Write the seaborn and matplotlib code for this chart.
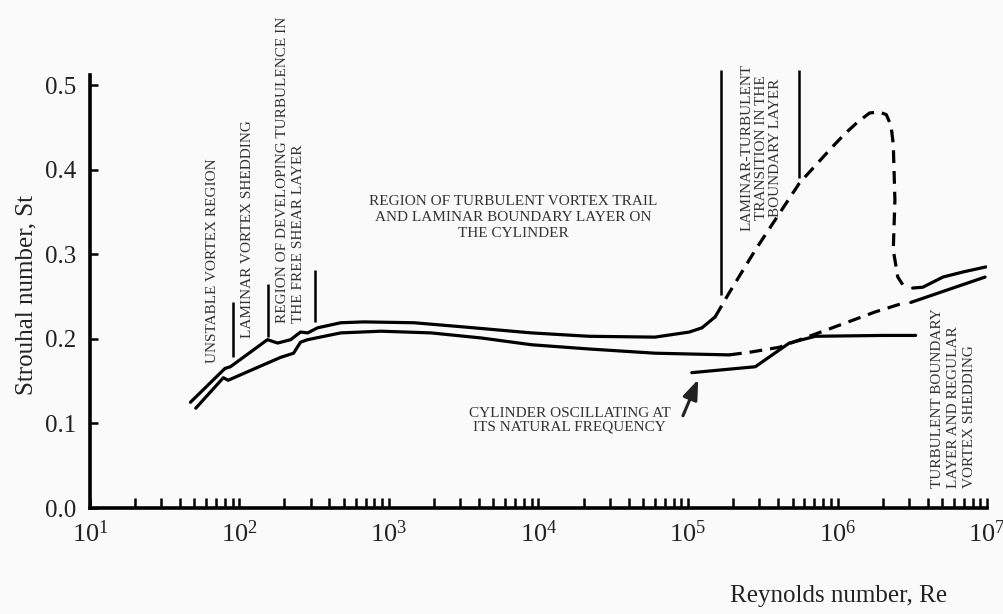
import numpy as np
import pandas as pd
import matplotlib
matplotlib.use("Agg")
import matplotlib.pyplot as plt
import seaborn as sns

# curves: Reynolds number and Strouhal number
upper_re = [47, 80, 87, 154, 180, 220, 256, 286, 333, 476, 679, 1470, 3180, 8970,
            21700, 60100, 1.02e5, 1.24e5, 1.52e5]
upper_st = [0.125, 0.165, 0.167, 0.199, 0.195, 0.199, 0.208, 0.207, 0.213, 0.219,
            0.220, 0.219, 0.214, 0.207, 0.203, 0.202, 0.208, 0.213, 0.226]

lower_re = [51, 78, 84, 113, 188, 230, 256, 286, 476, 883, 1910, 4140, 8970,
            21700, 60100, 1.88e5]
lower_st = [0.118, 0.154, 0.151, 0.161, 0.178, 0.183, 0.196, 0.199, 0.207, 0.209,
            0.207, 0.201, 0.193, 0.188, 0.183, 0.181]

lower_dash_re = [1.88e5, 2.56e5, 4.08e5, 8.30e5, 1.80e6, 2.73e6]
lower_dash_st = [0.181, 0.184, 0.190, 0.210, 0.232, 0.242]

lower_right_re = [3.09e6, 9.7e6]
lower_right_st = [0.243, 0.273]

upper_dash_re = [1.52e5, 1.88e5, 2.82e5, 5.56e5, 9.25e5, 1.13e6, 1.36e6, 1.64e6,
                 1.91e6, 2.12e6, 2.28e6, 2.36e6, 2.42e6, 2.36e6, 2.53e6, 2.73e6]
upper_dash_st = [0.226, 0.254, 0.305, 0.384, 0.427, 0.443, 0.456, 0.467,
                 0.468, 0.465, 0.452, 0.430, 0.364, 0.305, 0.273, 0.264]

upper_right_re = [3.18e6, 3.72e6, 5.07e6, 6.90e6, 9.84e6]
upper_right_st = [0.260, 0.261, 0.273, 0.279, 0.285]

osc_re = [1.06e5, 2.82e5, 3.66e5, 4.76e5, 7.11e5, 2.0e6, 3.33e6]
osc_st = [0.160, 0.167, 0.181, 0.195, 0.203, 0.204, 0.204]

# region marker bars
mark_re = [90, 154, 320, 1.66e5, 5.56e5]
mark_lo = [0.178, 0.202, 0.220, 0.252, 0.390]
mark_hi = [0.243, 0.265, 0.281, 0.518, 0.518]

x_ticks = [1e1, 1e2, 1e3, 1e4, 1e5, 1e6, 1e7]
x_labels = [r"$\mathregular{10^{%d}}$" % e for e in range(1, 8)]
y_ticks = [0.0, 0.1, 0.2, 0.3, 0.4, 0.5]

sns.set_style("ticks")
plt.rcParams["font.family"] = ["Liberation Serif", "DejaVu Serif"]
plt.rcParams["mathtext.fontset"] = "custom"
plt.rcParams["mathtext.rm"] = "Liberation Serif"

fig = plt.figure(figsize=(10.04, 6.14), dpi=100, facecolor="#fafafa")
ax = fig.add_axes([0.0896, 0.1726, 0.8935, 0.7052])
ax.set_facecolor("#fafafa")

lw = 2.3
solid = dict(color="black", linewidth=lw, sort=False, estimator=None, ax=ax)

sns.lineplot(x=upper_re, y=upper_st, **solid)
sns.lineplot(x=lower_re, y=lower_st, **solid)
sns.lineplot(x=lower_right_re, y=lower_right_st, **solid)
sns.lineplot(x=upper_right_re, y=upper_right_st, **solid)
sns.lineplot(x=osc_re, y=osc_st, **solid)
l1 = sns.lineplot(x=lower_dash_re, y=lower_dash_st, **solid).lines[-1]
l1.set_dashes([4, 2.5])
l2 = sns.lineplot(x=upper_dash_re, y=upper_dash_st, **solid).lines[-1]
l2.set_dashes([4, 2.5])

ax.vlines(mark_re, mark_lo, mark_hi, color="black", linewidth=1.8, clip_on=False)

ax.set_xscale("log")
ax.set_xlim(10, 1e7)
ax.set_ylim(0, 0.5118)
ax.set_xticks(x_ticks)
ax.set_xticklabels(x_labels, fontsize=19)
ax.set_yticks(y_ticks)
ax.set_yticklabels([f"{v:.1f}" for v in y_ticks], fontsize=18)
ax.xaxis.set_minor_locator(matplotlib.ticker.LogLocator(base=10, subs=np.arange(2, 10)))
ax.xaxis.set_minor_formatter(matplotlib.ticker.NullFormatter())
ax.tick_params(axis="x", which="both", direction="in", length=7, width=1.8,
               color="black", pad=9, labelcolor="#222222", bottom=True)
ax.tick_params(axis="y", which="major", direction="in", length=6, width=1.8,
               color="black", pad=10, labelcolor="#222222", left=True)
ax.tick_params(axis="y", which="minor", left=False)

sns.despine(ax=ax)
for s in ["left", "bottom"]:
    ax.spines[s].set_linewidth(2.6)
    ax.spines[s].set_color("black")

fig.text(0.026, 0.52, "Strouhal number, St", rotation=90, fontsize=18,
         ha="center", va="center", color="#222222")
fig.text(0.835, 0.03, "Reynolds number, Re", fontsize=18, ha="center",
         va="center", color="#222222")

tc = "#333333"
fs = 11
ls = 1.3
ax.text(66, 0.171, "UNSTABLE VORTEX REGION", rotation=90, ha="center",
        va="bottom", fontsize=fs, color=tc)
ax.text(113, 0.201, "LAMINAR VORTEX SHEDDING", rotation=90, ha="center",
        va="bottom", fontsize=fs, color=tc)
ax.text(220, 0.219, "REGION OF DEVELOPING TURBULENCE IN\nTHE FREE SHEAR LAYER",
        rotation=90, ha="center", va="bottom", multialignment="left",
        fontsize=fs, color=tc, linespacing=ls)
ax.text(3.09e5, 0.426, "LAMINAR-TURBULENT\nTRANSITION IN THE\nBOUNDARY LAYER",
        rotation=90, ha="center", va="center", multialignment="center",
        fontsize=fs, color=tc, linespacing=1.15)
ax.text(6.0e6, 0.024, "TURBULENT BOUNDARY\nLAYER AND REGULAR\nVORTEX SHEDDING",
        rotation=90, ha="center", va="bottom", multialignment="left",
        fontsize=fs, color=tc, linespacing=ls)
ax.text(6.8e3, 0.343, "REGION OF TURBULENT VORTEX TRAIL\nAND LAMINAR BOUNDARY LAYER ON\nTHE CYLINDER",
        ha="center", va="center", multialignment="center", fontsize=fs,
        color=tc, linespacing=ls)
ax.text(1.61e4, 0.104, "CYLINDER OSCILLATING AT\nITS NATURAL FREQUENCY",
        ha="center", va="center", multialignment="center", fontsize=fs,
        color=tc, linespacing=1.1)

ax.annotate("", xy=(1.19e5, 0.155), xytext=(9.1e4, 0.106),
            arrowprops=dict(arrowstyle="-|>,head_length=1.2,head_width=0.45",
                            color="#222222", linewidth=2.2))

fig.savefig("out.png", dpi=100, facecolor=fig.get_facecolor())
